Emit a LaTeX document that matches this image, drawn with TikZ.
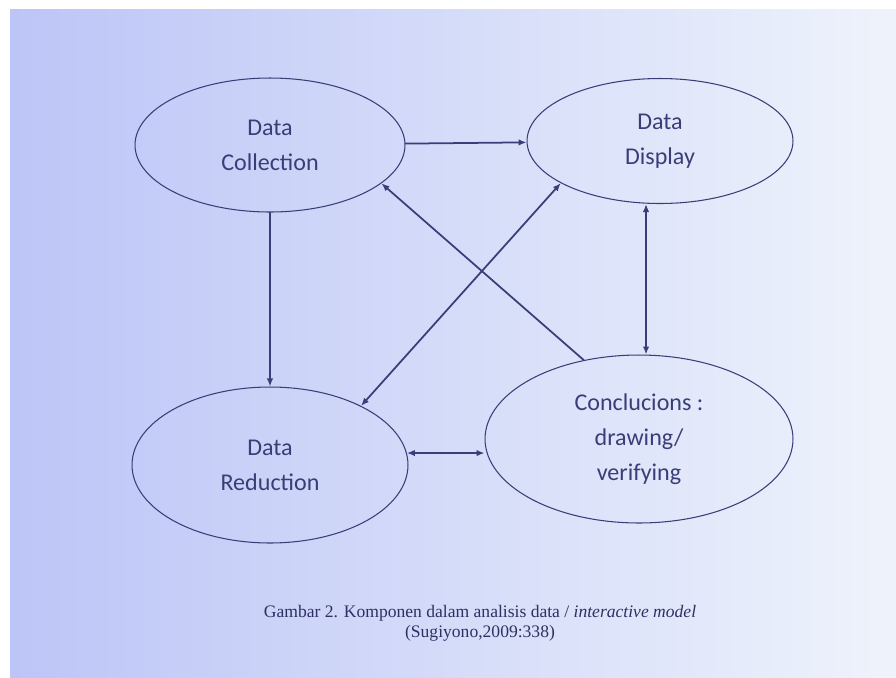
\documentclass[tikz,border=0pt]{standalone}
\usepackage{fontspec}
\setmainfont{Carlito}
\newfontfamily\capfont{Liberation Serif}
\usetikzlibrary{shapes.geometric,arrows.meta}

\definecolor{ink}{RGB}{58,62,120}
\definecolor{capink}{RGB}{45,48,98}
\definecolor{paperd}{RGB}{188,197,247}
\definecolor{paperl}{RGB}{238,243,251}

\tikzset{
  comp/.style={draw=ink, ellipse, line width=0.6pt, inner sep=0pt, align=center,
    text=ink, font=\fontsize{13.7}{20}\selectfont},
  flow/.style={draw=ink, line width=1pt, -{Latex[length=1.6mm,width=1.3mm]}},
  both/.style={flow, {Latex[length=1.6mm,width=1.3mm]}-{Latex[length=1.6mm,width=1.3mm]}}
}

\begin{document}
\begin{tikzpicture}[x=0.02cm, y=-0.02cm, line cap=round]

  % page
  \fill[white] (0,0) rectangle (896,677);
  \shade[left color=paperd, right color=paperl] (10,9) rectangle (896,677);
  \useasboundingbox (0,0) rectangle (896,677);

  % components
  \node[comp, minimum width=5.4cm, minimum height=2.68cm] (C) at (270,145) {Data\\Collection};
  \node[comp, minimum width=5.32cm, minimum height=2.5cm] (D) at (660,141) {Data\\Display};
  \node[comp, minimum width=5.52cm, minimum height=3.12cm] (R) at (270,465) {Data\\Reduction};
  \node[comp, minimum width=6.16cm, minimum height=3.36cm] (K) at (639,439) {Conclucions :\\drawing/\\verifying};

  % connectors
  \draw[flow] (C) -- (D);
  \draw[flow] (C) -- (R);
  \draw[flow] (K.125) -- (C.-19);
  \draw[both] (R.33) -- (D.203);
  \draw[both] ([xshift=4]K.north) -- ([xshift=4]K.north |- D.south);
  \draw[both] (R.5) -- (R.5 -| K.west);

  % caption
  \node[text=capink, font=\capfont\fontsize{10}{11.5}\selectfont, align=center] (cap) at (480,623)
    {Gambar 2. Komponen dalam analisis data / \textit{interactive model}\\(Sugiyono,2009:338)};
\end{tikzpicture}
\end{document}
